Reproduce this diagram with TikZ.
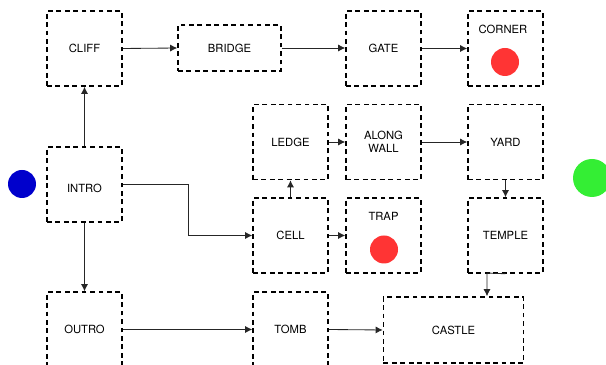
\documentclass[tikz,border=0pt]{standalone}
\usepackage{fontspec}
\setmainfont{TeX Gyre Heros}
\usetikzlibrary{arrows.meta,calc}
\definecolor{dotred}{RGB}{255,52,52}
\definecolor{dotblue}{RGB}{0,0,204}
\definecolor{dotgreen}{RGB}{52,238,52}
\tikzset{room/.style={draw, line width=1.1pt, dash pattern=on 3.4pt off 2.6pt,
minimum width=1.875cm, minimum height=1.875cm, inner sep=0pt,
font=\fontsize{8}{9.5}\selectfont, align=center},
lbl/.style={font=\fontsize{8}{9.5}\selectfont, inner sep=0pt},
arrow/.style={draw, line width=0.6pt, black!85, -{Latex[length=5pt, width=5pt]}}}

\begin{document}
\begin{tikzpicture}[x=0.025cm, y=-0.025cm]
    \useasboundingbox (0,0) rectangle (606,365);

    % Rooms in the top row
    \node[room] (cliff) at (84.5,48.5) {CLIFF};
    \node[room, minimum width=2.575cm, minimum height=1.15cm] (bridge) at (229.5,48) {BRIDGE};
    \node[room] (gate) at (383.5,48.5) {GATE};
    \node[room] (corner) at (505.5,48.5) {};
    \node[lbl] (cornerlbl) at (503,29) {CORNER};

    % Middle rows
    \node[room] (ledge) at (290.5,142) {LEDGE};
    \node[room] (wall) at (383.5,142) {ALONG\\WALL};
    \node[room] (yard) at (505.5,142) {YARD};
    \node[room] (intro) at (84.5,184.5) {};
    \node[lbl] (introlbl) at (84.5,188) {INTRO};
    \node[room] (cell) at (290.5,235.5) {CELL};
    \node[room] (trap) at (383.5,235.5) {};
    \node[lbl] (traplbl) at (383.5,216) {TRAP};
    \node[room] (temple) at (505.5,235.5) {TEMPLE};

    % Bottom row
    \node[room] (outro) at (84.5,329.5) {OUTRO};
    \node[room] (tomb) at (290.5,329.5) {TOMB};
    \node[room, minimum width=3.5cm, minimum height=1.65cm] (castle) at (453.5,330) {CASTLE};

    % Markers
    \fill[dotred] (505,62) circle (14);
    \fill[dotred] (384,249.5) circle (14);
    \fill[dotblue] (22,184) circle (14);
    \fill[dotgreen] (592,178) circle (19);

    % Connections
    \coordinate (bend1) at (188,184);
    \coordinate (bend2) at (487,273);
    \draw[arrow] (cliff.east) -- (bridge.west);
    \draw[arrow] (bridge.east) -- (bridge.east -| gate.west);
    \draw[arrow] (gate.east) -- (corner.west);
    \draw[arrow] (intro.north) -- (cliff.south);
    \draw[arrow] (intro.south) -- (outro.north);
    \draw[arrow] (intro.east |- bend1) -- (bend1) |- (cell.west);
    \draw[arrow] (cell.north) -- (ledge.south);
    \draw[arrow] (cell.east) -- (trap.west);
    \draw[arrow] (ledge.east) -- (wall.west);
    \draw[arrow] (wall.east) -- (yard.west);
    \draw[arrow] (yard.south) -- (temple.north);
    \draw[arrow] (temple.south) -- (bend2) -- (bend2 |- castle.north);
    \draw[arrow] (outro.east) -- (tomb.west);
    \draw[arrow] (tomb.east) -- (castle.west);
\end{tikzpicture}
\end{document}
